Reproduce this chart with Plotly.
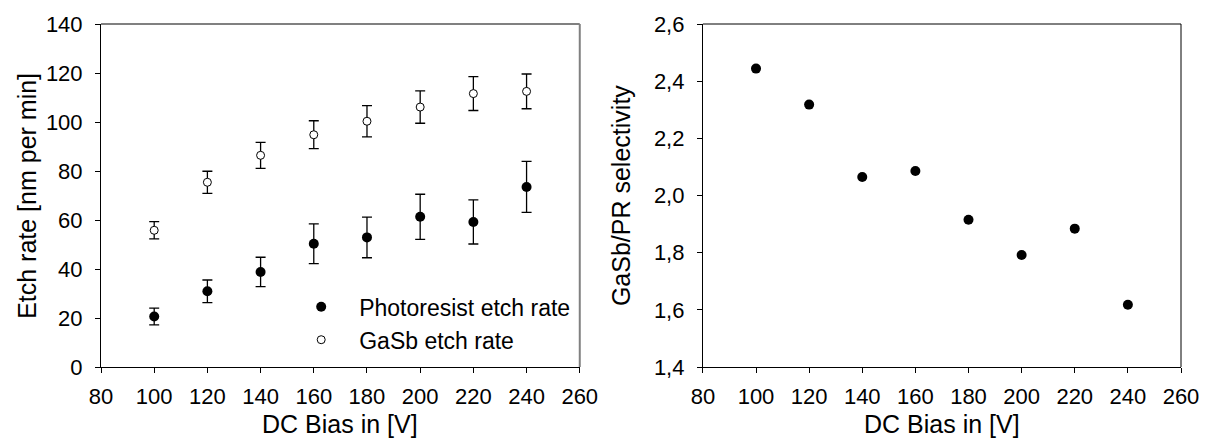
import plotly.graph_objects as go
from plotly.subplots import make_subplots

# DC bias values (V)
bias = [100, 120, 140, 160, 180, 200, 220, 240]

# etch rates [nm per min] with error
pr_rate = [20.6, 30.9, 38.8, 50.3, 52.9, 61.3, 59.2, 73.5]
pr_err = [3.4, 4.6, 6.0, 8.1, 8.3, 9.2, 9.0, 10.4]
gasb_rate = [55.8, 75.4, 86.4, 94.8, 100.3, 106.1, 111.6, 112.5]
gasb_err = [3.5, 4.5, 5.3, 5.7, 6.4, 6.6, 6.9, 7.1]

# selectivity GaSb / PR
selectivity = [2.444, 2.318, 2.065, 2.086, 1.915, 1.792, 1.884, 1.618]

FONT = "Liberation Sans, Arial, sans-serif"

fig = make_subplots(rows=1, cols=2, horizontal_spacing=0.114)

fig.add_trace(go.Scatter(
    x=bias, y=pr_rate, mode="markers", name="Photoresist etch rate",
    marker=dict(symbol="circle", size=10, color="black"),
    error_y=dict(type="data", array=pr_err, color="black", thickness=1.3, width=5),
), row=1, col=1)

fig.add_trace(go.Scatter(
    x=bias, y=gasb_rate, mode="markers", name="GaSb etch rate",
    marker=dict(symbol="circle", size=8, color="white",
                line=dict(color="black", width=1)),
    error_y=dict(type="data", array=gasb_err, color="black", thickness=1.3, width=5),
), row=1, col=1)

fig.add_trace(go.Scatter(
    x=bias, y=selectivity, mode="markers", showlegend=False,
    marker=dict(symbol="circle", size=10, color="black"),
), row=1, col=2)

fig.update_layout(
    width=1211, height=443,
    margin=dict(l=101, r=25, t=21, b=76),
    paper_bgcolor="white", plot_bgcolor="white",
    font=dict(family=FONT, size=22, color="black"),
    separators=",.",
    legend=dict(x=0.1687, y=0.238, xanchor="left", yanchor="top",
                bgcolor="rgba(0,0,0,0)", font=dict(size=23),
                itemwidth=66, tracegroupgap=0),
)

fig.layout.xaxis.domain = [0, 0.4433]
fig.layout.xaxis2.domain = [0.5573, 1]

axis_common = dict(showgrid=False, zeroline=False, ticks="outside", ticklen=5,
                   tickwidth=1, tickcolor="black", showline=True,
                   linecolor="black", linewidth=1,
                   tickfont=dict(family=FONT, size=22, color="black"))

fig.update_xaxes(range=[80, 260], dtick=20, tick0=80, ticklabelstandoff=5, **axis_common)
fig.update_yaxes(ticklabelstandoff=8, **axis_common)
fig.update_yaxes(range=[0, 140], dtick=20, row=1, col=1)
fig.update_yaxes(range=[1.4, 2.6], dtick=0.2, tickformat=".1f", row=1, col=2)

# frame: grey top/right on left panel, black on right panel
fig.add_shape(type="line", xref="x domain", yref="y domain", x0=0, x1=1, y0=1, y1=1,
              line=dict(color="#808080", width=2))
fig.add_shape(type="line", xref="x domain", yref="y domain", x0=1, x1=1, y0=0, y1=1,
              line=dict(color="#808080", width=2))
fig.add_shape(type="line", xref="x2 domain", yref="y2 domain", x0=0, x1=1, y0=1, y1=1,
              line=dict(color="black", width=1))
fig.add_shape(type="line", xref="x2 domain", yref="y2 domain", x0=1, x1=1, y0=0, y1=1,
              line=dict(color="black", width=1))

# axis titles
titles = [
    dict(text="Etch rate [nm per min]", x=-0.0691, y=0.5, textangle=-90),
    dict(text="GaSb/PR selectivity", x=0.4811, y=0.5, textangle=-90),
    dict(text="DC Bias in [V]", x=0.2217, y=-0.1676, textangle=0),
    dict(text="DC Bias in [V]", x=0.7788, y=-0.1676, textangle=0),
]
for t in titles:
    fig.add_annotation(xref="paper", yref="paper", showarrow=False,
                       xanchor="center", yanchor="middle",
                       font=dict(family=FONT, size=25, color="black"), **t)

# drop the page's default body margin so the figure fills the window
fig.write_html("out.html", config={"displayModeBar": False},
               post_script="document.body.style.margin='0';")
